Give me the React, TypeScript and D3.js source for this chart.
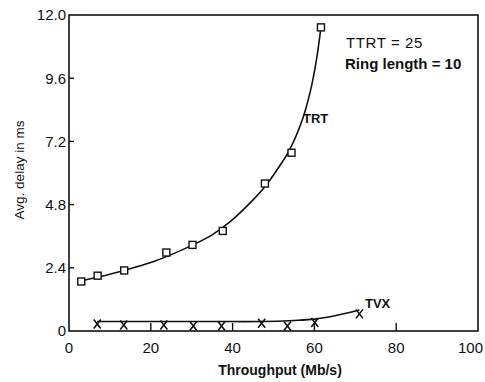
import React from "react";
import * as d3 from "d3";

const xTicks = [0, 20, 40, 60, 80, 100];
const yTicks = [0, 2.4, 4.8, 7.2, 9.6, 12.0];
const yTickLabels = ["0", "2.4", "4.8", "7.2", "9.6", "12.0"];

// TRT measured points (throughput, delay)
const trtX = [3.0, 7.0, 13.5, 23.8, 30.2, 37.6, 47.9, 54.4, 61.6];
const trtY = [1.88, 2.1, 2.3, 2.98, 3.27, 3.8, 5.6, 6.77, 11.53];
// TRT fitted curve
const trtFitX = [2, 8, 13.4, 20, 25, 30.3, 35, 39.4, 45, 48, 51, 54, 57, 59, 60.5, 61.6];
const trtFitY = [1.88, 2.08, 2.3, 2.6, 2.9, 3.27, 3.65, 4.15, 4.98, 5.5, 6.15, 6.9, 8.0, 9.1, 10.3, 11.53];

// TVX measured points
const tvxX = [6.9, 13.4, 23.2, 30.4, 37.3, 47.1, 53.4, 60.1, 71.0];
const tvxY = [0.27, 0.23, 0.23, 0.19, 0.19, 0.29, 0.19, 0.32, 0.65];
// TVX fitted curve
const tvxFitX = [6.9, 20, 35, 47, 55, 60, 65, 71];
const tvxFitY = [0.36, 0.36, 0.36, 0.36, 0.4, 0.45, 0.58, 0.8];

const W = 485;
const H = 382;
const left = 69;
const right = 478;
const top = 15;
const bottom = 331;

export default function App() {
  const x = d3.scaleLinear().domain([0, 100]).range([left, right]);
  const y = d3.scaleLinear().domain([0, 12]).range([bottom, top]);

  const mk = (xs: number[], ys: number[]) =>
    d3
      .line<number>()
      .x((_, i) => x(xs[i]))
      .y((_, i) => y(ys[i]))
      .curve(d3.curveCatmullRom.alpha(0.5))(xs);

  const font = "'Liberation Sans', Arial, sans-serif";
  const ink = "#111";

  return (
    <svg
      width={W}
      height={H}
      style={{ position: "absolute", left: 0, top: 0, background: "#fff" }}
      fontFamily={font}
    >
      {/* frame */}
      <rect
        x={left}
        y={top}
        width={right - left}
        height={bottom - top}
        fill="none"
        stroke={ink}
        strokeWidth={1.6}
      />
      {/* y ticks */}
      {yTicks.map((t, i) => (
        <g key={"y" + i}>
          {t > 0 && t < 12 && (
            <line x1={left} x2={left + 5} y1={y(t)} y2={y(t)} stroke={ink} strokeWidth={1.4} />
          )}
          <text
            x={left - 3}
            y={y(t)}
            dy="0.36em"
            textAnchor="end"
            fontSize={15}
            fill={ink}
          >
            {yTickLabels[i]}
          </text>
        </g>
      ))}
      {/* x ticks */}
      {xTicks.map((t, i) => (
        <g key={"x" + i}>
          {t > 0 && t < 100 && (
            <line x1={x(t)} x2={x(t)} y1={bottom} y2={bottom - 8} stroke={ink} strokeWidth={1.4} />
          )}
          <text
            x={t === 100 ? W - 2 : x(t)}
            y={bottom + 22}
            textAnchor={t === 100 ? "end" : "middle"}
            fontSize={15}
            fill={ink}
          >
            {String(t)}
          </text>
        </g>
      ))}
      {/* axis labels */}
      <text
        transform={`translate(24,${170}) rotate(-90)`}
        textAnchor="middle"
        fontSize={13.5}
        fill={ink}
      >
        Avg. delay in ms
      </text>
      <text x={280} y={375} textAnchor="middle" fontSize={14} fontWeight="bold" fill={ink}>
        Throughput (Mb/s)
      </text>

      {/* curves */}
      <path d={mk(trtFitX, trtFitY) || ""} fill="none" stroke={ink} strokeWidth={1.6} />
      <path d={mk(tvxFitX, tvxFitY) || ""} fill="none" stroke={ink} strokeWidth={1.6} />

      {/* TRT squares */}
      {trtX.map((v, i) => (
        <rect
          key={"s" + i}
          x={x(v) - 3.5}
          y={y(trtY[i]) - 3.5}
          width={7}
          height={7}
          fill="#fff"
          stroke={ink}
          strokeWidth={1.4}
        />
      ))}
      {/* TVX crosses */}
      {tvxX.map((v, i) => {
        const cx = x(v);
        const cy = y(tvxY[i]);
        return (
          <path
            key={"c" + i}
            d={`M${cx - 3.5},${cy - 4.5}L${cx + 3.5},${cy + 4.5}M${cx + 3.5},${cy - 4.5}L${cx - 3.5},${cy + 4.5}`}
            stroke={ink}
            strokeWidth={1.6}
            fill="none"
          />
        );
      })}

      {/* annotations */}
      <text x={303} y={123} fontSize={13} fontWeight="bold" fill={ink}>
        TRT
      </text>
      <text x={365} y={308} fontSize={13} fontWeight="bold" fill={ink}>
        TVX
      </text>
      <text x={346} y={48} fontSize={15} fill={ink} letterSpacing={0.6}>
        TTRT = 25
      </text>
      <text x={345} y={69} fontSize={15} fontWeight="bold" fill={ink}>
        Ring length = 10
      </text>
    </svg>
  );
}
